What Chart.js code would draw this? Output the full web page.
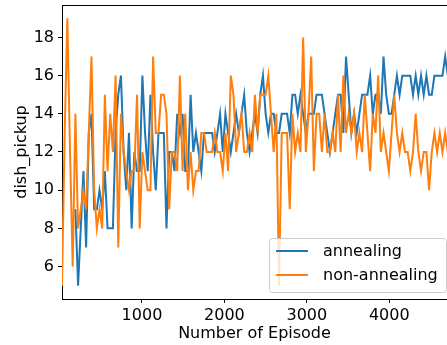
<!DOCTYPE html>
<html>
<head>
<meta charset="utf-8">
<script src="https://cdn.jsdelivr.net/npm/chart.js@4.4.1/dist/chart.umd.min.js"></script>
<style>
  html, body { margin: 0; padding: 0; background: #fff; }
  #wrap { width: 447px; height: 345px; }
</style>
</head>
<body>
<div id="wrap"><canvas id="chart" width="447" height="345"></canvas></div>
<script>
// evaluation points
const FIRST_EPISODE = 30;
const EPISODE_STEP = 32.5;

const annealing = [
    null, null, null, null, null, 9, 5, 8, 11, 7, 13, 14, 9, 9, 10, 9, 11, 8, 8,
    8, 13, 15, 16, 12, 10, 13, 8, 12, 11, 11, 16, 13, 11, 15, 12, 10, 13,
    13, 13, 8, 12, 12, 11, 14, 13, 14, 11, 11, 15, 12, 13, 12, 11, 13,
    13, 13, 13, 12, 13, 14, 12, 14, 13, 12, 13, 14, 13, 14, 15, 13, 12, 13, 14,
    13, 15, 16, 14, 13, 14, 14, 13, 13, 14, 14, 14, 13, 15, 15, 14,
    15, 14, 13, 14, 14, 14, 15, 15, 15, 14, 13, 12, 13, 14, 15, 15, 13, 17,
    15, 13, 14, 13, 14, 15, 15, 15, 16, 14, 15, 15, 14, 17, 15, 14, 14, 15,
    16, 15, 16, 16, 16, 16, 15, 16, 15, 16, 15, 16, 15, 15, 16, 16, 16, 16, 17, 16
];

const nonAnnealing = [
    5, 13, 19, 12, 6, 14, 8, 9, 10, 9, 13, 17, 10, 8, 9, 8, 15, 11, 14,
    12, 16, 7, 14, 12, 11, 10, 11, 11, 15, 8, 12, 11, 10, 10, 17, 13, 13,
    15, 15, 14, 9, 12, 12, 11, 16, 11, 14, 10, 12, 10, 11, 11, 13, 13,
    12, 12, 12, 13, 12, 12, 11, 13, 11, 16, 15, 12, 13, 14, 12, 12, 13, 12, 15,
    13, 15, 15, 15, 16, 14, 12, 14, 5, 13, 13, 13, 9, 14, 12, 13,
    12, 18, 12, 14, 17, 11, 14, 14, 12, 14, 12, 12, 13,
    12, 15, 12, 16, 13, 14, 13, 14, 12, 13, 12, 15, 13, 11, 14, 13,
    16, 12, 13, 12, 11, 13, 15, 13, 12, 13, 12, 12, 11, 12, 14, 12, 11, 12, 12, 10, 12, 13, 12, 13, 12, 13, 12
];

const episodes = nonAnnealing.map((_, i) => FIRST_EPISODE + i * EPISODE_STEP);

const xTicks = [1000, 2000, 3000, 4000];
const yTicks = [6, 8, 10, 12, 14, 16, 18];

const FONT = "'DejaVu Sans', sans-serif";
Chart.defaults.font.family = FONT;
Chart.defaults.font.size = 16;
Chart.defaults.color = "#000";

// top spine + matplotlib-like legend box in the lower right
const frameAndLegend = {
    id: "frameAndLegend",
    afterDatasetsDraw(chart) {
        const { ctx, chartArea: a } = chart;
        ctx.save();
        ctx.strokeStyle = "#000";
        ctx.lineWidth = 1;
        ctx.beginPath();
        ctx.moveTo(a.left, a.top + 0.5);
        ctx.lineTo(a.right, a.top + 0.5);
        ctx.stroke();

        const bx = 269.5, by = 238.5, bw = 177, bh = 54;
        ctx.beginPath();
        ctx.roundRect(bx, by, bw, bh, 3);
        ctx.fillStyle = "rgba(255,255,255,0.8)";
        ctx.fill();
        ctx.strokeStyle = "#cccccc";
        ctx.stroke();

        ctx.font = "16px " + FONT;
        ctx.textBaseline = "middle";
        chart.data.datasets.forEach((ds, i) => {
            const y = 251 + i * 24;
            ctx.strokeStyle = ds.borderColor;
            ctx.lineWidth = 2;
            ctx.beginPath();
            ctx.moveTo(276, y);
            ctx.lineTo(308, y);
            ctx.stroke();
            ctx.fillStyle = "#000";
            ctx.fillText(ds.label, 323, y + 1);
        });
        ctx.restore();
    }
};

new Chart(document.getElementById("chart"), {
    type: "line",
    data: {
        labels: episodes,
        datasets: [{
            label: "annealing",
            data: annealing,
            borderColor: "#1f77b4",
            borderWidth: 2,
            pointRadius: 0,
            tension: 0,
            order: 1
        }, {
            label: "non-annealing",
            data: nonAnnealing,
            borderColor: "#ff7f0e",
            borderWidth: 2,
            pointRadius: 0,
            tension: 0,
            order: 0
        }]
    },
    options: {
        responsive: false,
        animation: false,
        layout: { autoPadding: false, padding: { top: 5, right: 0, bottom: 0, left: 0 } },
        plugins: {
            legend: { display: false },
            tooltip: { enabled: false }
        },
        scales: {
            x: {
                type: "linear",
                min: 30,
                max: 4700,
                border: { display: true, color: "#000", width: 1 },
                grid: { drawOnChartArea: false, drawTicks: true, tickLength: 4, color: "#000" },
                ticks: { padding: 3, maxRotation: 0, callback: v => String(v) },
                afterBuildTicks: s => { s.ticks = xTicks.map(v => ({ value: v })); },
                afterFit: s => { s.height = 46; s.paddingLeft = 0; s.paddingRight = 0; },
                title: { display: true, text: "Number of Episode", padding: { top: 0, bottom: 2 } }
            },
            y: {
                min: 4.3,
                max: 19.7,
                border: { display: true, color: "#000", width: 1 },
                grid: { drawOnChartArea: false, drawTicks: true, tickLength: 4, color: "#000" },
                ticks: { padding: 4, callback: v => String(v) },
                afterBuildTicks: s => { s.ticks = yTicks.map(v => ({ value: v })); },
                afterFit: s => { s.width = 62; s.paddingTop = 0; s.paddingBottom = 0; },
                title: { display: true, text: "dish_pickup", padding: { top: 12, bottom: 0 } }
            }
        }
    },
    plugins: [frameAndLegend]
});
</script>
</body>
</html>
